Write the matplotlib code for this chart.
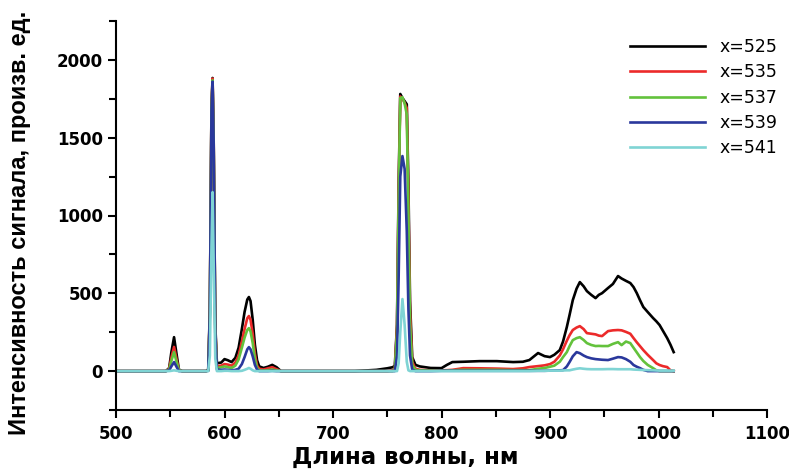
import matplotlib.pyplot as plt
from matplotlib.ticker import MultipleLocator

plt.rcParams.update({
    'font.family': ['DejaVu Sans'],
    'font.size': 12,
    'axes.linewidth': 1.5,
    'lines.linewidth': 1.9,
})

# Wavelength grid (nm), shared by all series
wavelength = [
    500, 546, 549, 551, 553.5, 556, 558, 561, 583, 585,
    586.5, 588, 589, 590, 591.5, 593, 597, 600, 603, 606.5,
    610, 613, 616, 618.5, 621, 622.5, 624, 626, 628, 630,
    632, 636, 640, 644, 648, 652, 720, 740, 750, 755,
    757, 759, 760.5, 762, 764, 766, 768, 769.5, 771, 773,
    776, 780, 790, 800, 805, 810, 820, 835, 851, 866,
    875, 881, 889, 895, 900, 904, 909, 912, 915.5, 918,
    921, 924.5, 927.5, 931, 934, 938, 942, 945, 948, 953.5,
    958, 962.7, 966, 970, 974, 977, 980, 983, 986, 990,
    995, 998, 1001, 1004, 1008, 1011, 1014]

x525 = [
    0, 0, 20, 120, 218, 100, 10, 0, 0, 10,
    400, 1700, 1884, 1500, 300, 50, 55, 77, 70, 58,
    85, 150, 270, 380, 460, 476, 450, 330, 170, 70,
    30, 20, 28, 40, 25, 0, 0, 8, 18, 25,
    35, 300, 1200, 1781, 1755, 1735, 1715, 1200, 450, 90,
    40, 30, 20, 19, 40, 58, 60, 64, 64, 58,
    60, 71, 116, 96, 90, 105, 135, 190, 283, 360,
    456, 530, 572, 545, 514, 490, 469, 490, 501, 534,
    560, 611, 595, 580, 566, 540, 501, 455, 412, 380,
    341, 320, 296, 260, 212, 170, 122]

x535 = [
    0, 0, 15, 85, 155, 70, 5, 0, 0, 5,
    380, 1690, 1880, 1500, 280, 30, 35, 45, 42, 35,
    55, 100, 190, 270, 340, 354, 330, 240, 110, 35,
    15, 10, 18, 25, 12, 0, 0, 0, 0, 5,
    15, 280, 1150, 1765, 1750, 1725, 1690, 1100, 380, 60,
    15, 8, 5, 5, 6, 8, 19, 18, 16, 13,
    18, 26, 32, 37, 45, 60, 100, 140, 195, 230,
    264, 280, 289, 270, 244, 240, 236, 228, 225, 257,
    262, 264, 262, 252, 240, 212, 185, 160, 135, 105,
    71, 50, 39, 32, 26, 5, 0]

x537 = [
    0, 0, 10, 65, 122, 55, 5, 0, 0, 3,
    370, 1680, 1870, 1480, 270, 20, 25, 30, 26, 20,
    35, 75, 150, 215, 265, 276, 255, 180, 80, 20,
    5, 3, 6, 10, 5, 0, 0, 0, 0, 0,
    10, 250, 1100, 1755, 1760, 1720, 1650, 1000, 300, 40,
    8, 5, 3, 3, 3, 5, 8, 8, 8, 6,
    6, 6, 15, 20, 28, 35, 60, 90, 122, 160,
    199, 212, 218, 200, 180, 168, 161, 162, 161, 161,
    175, 186, 167, 190, 180, 150, 120, 90, 65, 40,
    19, 5, 0, 0, 0, 0, 0]

x539 = [
    0, 0, 5, 30, 58, 25, 0, 0, 0, 2,
    360, 1670, 1860, 1470, 250, 10, 8, 10, 8, 5,
    8, 15, 45, 90, 140, 154, 140, 95, 40, 10,
    0, 0, 0, 2, 0, 0, 0, 0, 0, 0,
    0, 100, 600, 1250, 1382, 1300, 900, 400, 100, 10,
    0, 0, 0, 2, 2, 2, 2, 2, 2, 2,
    2, 2, 2, 2, 3, 4, 5, 6, 30, 58,
    95, 122, 115, 100, 90, 82, 77, 75, 73, 71,
    80, 90, 88, 77, 60, 39, 28, 19, 8, 0,
    0, 0, 0, 0, 0, 0, 0]

x541 = [
    0, 0, 0, 2, 5, 2, 0, 0, 0, 0,
    100, 800, 1150, 700, 80, 0, 0, 2, 2, 0,
    0, 0, 2, 8, 15, 20, 15, 5, 0, 0,
    0, 0, 0, 0, 0, 0, 0, 0, 0, 0,
    0, 0, 50, 250, 463, 300, 60, 5, 0, 0,
    0, 0, 0, 0, 0, 0, 0, 0, 0, 0,
    0, 0, 2, 2, 3, 3, 3, 4, 5, 5,
    10, 15, 18, 15, 13, 12, 12, 12, 12, 13,
    13, 12, 12, 12, 12, 10, 9, 8, 7, 6,
    5, 4, 3, 3, 3, 3, 3]

labels = ['x=525', 'x=535', 'x=537', 'x=539', 'x=541']
colors = ['#000000', '#ec2a2a', '#63c23c', '#2a389c', '#7fd4d4']
series = [x525, x535, x537, x539, x541]

fig = plt.figure(figsize=(7.89, 4.70), dpi=100)
ax = fig.add_axes([116 / 789, 1 - 410 / 470, 651 / 789, 389 / 470])

for ys, lab, c in zip(series, labels, colors):
    ax.plot(wavelength, ys, color=c, label=lab)

ax.set_xlim(500, 1100)
ax.set_ylim(-250, 2250)
ax.xaxis.set_major_locator(MultipleLocator(100))
ax.xaxis.set_minor_locator(MultipleLocator(50))
ax.yaxis.set_major_locator(MultipleLocator(500))
ax.yaxis.set_minor_locator(MultipleLocator(250))
ax.tick_params(which='major', direction='out', length=6, width=1.5,
               labelsize=12)
ax.tick_params(axis='x', which='major', pad=5)
ax.tick_params(which='minor', direction='out', length=5, width=1.5)
for lbl in ax.get_xticklabels() + ax.get_yticklabels():
    lbl.set_fontweight('bold')

for side in ['top', 'right']:
    ax.spines[side].set_visible(False)

ax.set_xlabel('Длина волны, нм', fontsize=16.5, fontweight='bold')
ax.xaxis.set_label_coords(0.445, -0.093)
ax.set_ylabel('Интенсивность сигнала, произв. ед.', fontsize=17,
              fontweight='bold', family='Liberation Sans')
ax.yaxis.set_label_coords(-0.13, 0.48)

fig.legend(loc='upper right', bbox_to_anchor=(777 / 789, 1 - 38 / 470),
           frameon=False, fontsize=12.5, handlelength=4.3,
           handletextpad=0.8, labelspacing=0.42, borderpad=0,
           borderaxespad=0)

fig.savefig('out.png', dpi=100)
